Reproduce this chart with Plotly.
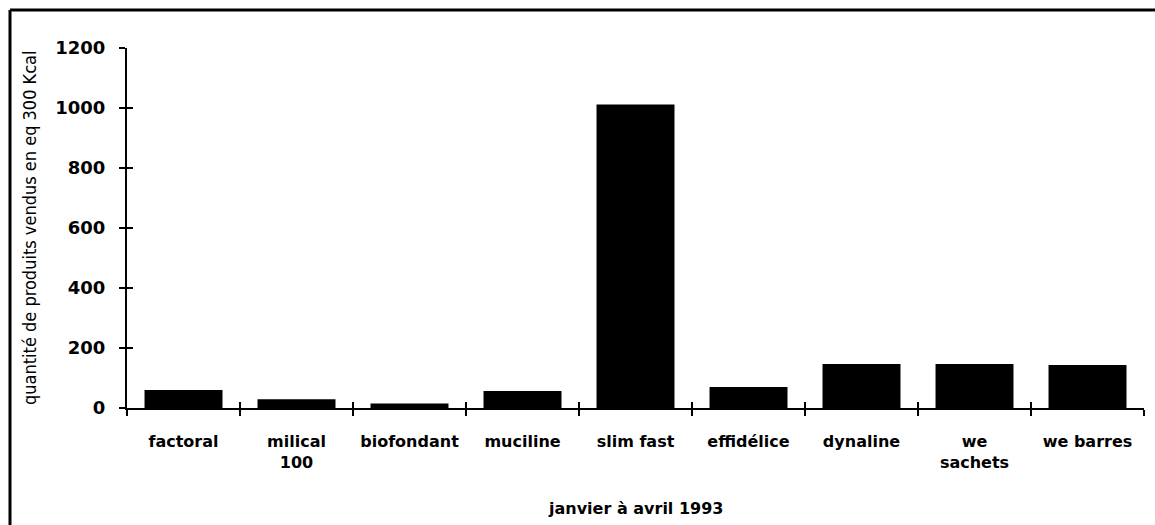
import plotly.graph_objects as go

categories = ["factoral", "milical<br>100", "biofondant", "muciline", "slim fast",
              "effidélice", "dynaline", "we<br>sachets", "we barres"]
values = [60, 29, 15, 57, 1012, 70, 147, 147, 143]
y_ticks = [0, 200, 400, 600, 800, 1000, 1200]
x_title = "janvier à avril 1993"
y_title = "quantité de produits vendus en eq 300 Kcal"

W, H = 1155, 525
L, R, T, B = 127, 11, 48, 117
pw, ph = W - L - R, H - T - B

def px_x(p):
    return (p - L) / pw

def px_y(p):
    return (H - B - p) / ph

fig = go.Figure()
fig.add_trace(go.Bar(x=categories, y=values, marker=dict(color="black", line=dict(width=0)),
                     hoverinfo="x+y", showlegend=False))
# overlay copy to get ticks crossing the axes (inside part)
fig.add_trace(go.Bar(x=categories, y=values, xaxis="x2", yaxis="y2",
                     marker=dict(color="rgba(0,0,0,0)", line=dict(width=0)),
                     hoverinfo="skip", showlegend=False))

tick_font = dict(family="DejaVu Sans", size=16, color="black", weight="bold")

fig.update_layout(
    width=W, height=H,
    margin=dict(l=L, r=R, t=T, b=B),
    paper_bgcolor="white", plot_bgcolor="white",
    bargap=0.31,
    font=dict(family="DejaVu Sans", color="black"),
    xaxis=dict(type="category", categoryorder="array", categoryarray=categories,
               range=[-0.5, 8.5], tickson="boundaries", ticks="outside", ticklen=6,
               tickwidth=2, tickcolor="black", showline=True, linewidth=2, linecolor="black",
               showgrid=False, zeroline=False, tickfont=tick_font, ticklabelstandoff=18,
               fixedrange=True),
    yaxis=dict(range=[0, 1200], tickvals=y_ticks, ticks="outside", ticklen=6, tickwidth=2,
               tickcolor="black", showline=True, linewidth=2, linecolor="black",
               showgrid=False, zeroline=False,
               tickfont=dict(family="DejaVu Sans", size=18, color="black", weight="bold"),
               ticklabelstandoff=10, fixedrange=True),
    xaxis2=dict(type="category", categoryorder="array", categoryarray=categories,
                overlaying="x", anchor="y2", range=[-0.5, 8.5], tickson="boundaries",
                ticks="inside", ticklen=6, tickwidth=2, tickcolor="black",
                showticklabels=False, showline=False, showgrid=False, zeroline=False),
    yaxis2=dict(overlaying="y", anchor="x2", side="left", range=[0, 1200], tickvals=y_ticks,
                ticks="inside", ticklen=6, tickwidth=2, tickcolor="black",
                showticklabels=False, showline=False, showgrid=False, zeroline=False),
    annotations=[
        dict(text=x_title, xref="paper", yref="paper", x=0.5, y=px_y(509),
             xanchor="center", yanchor="middle", showarrow=False,
             font=dict(family="DejaVu Sans", size=16, color="black", weight="bold")),
        dict(text=y_title, xref="paper", yref="paper", x=px_x(29), y=px_y(228),
             xanchor="center", yanchor="middle", textangle=-90, showarrow=False,
             font=dict(family="DejaVu Sans Condensed, DejaVu Sans", size=18, color="black",
                       weight=300)),
    ],
    shapes=[
        dict(type="line", xref="paper", yref="paper", x0=px_x(10), x1=px_x(10),
             y0=px_y(10), y1=px_y(530), line=dict(color="black", width=3)),
        dict(type="line", xref="paper", yref="paper", x0=px_x(10), x1=px_x(1160),
             y0=px_y(10), y1=px_y(10), line=dict(color="black", width=3)),
    ],
)

fig.write_html("out.html", config={"displayModeBar": False},
               post_script="document.body.style.margin='0';document.body.style.padding='0';")
